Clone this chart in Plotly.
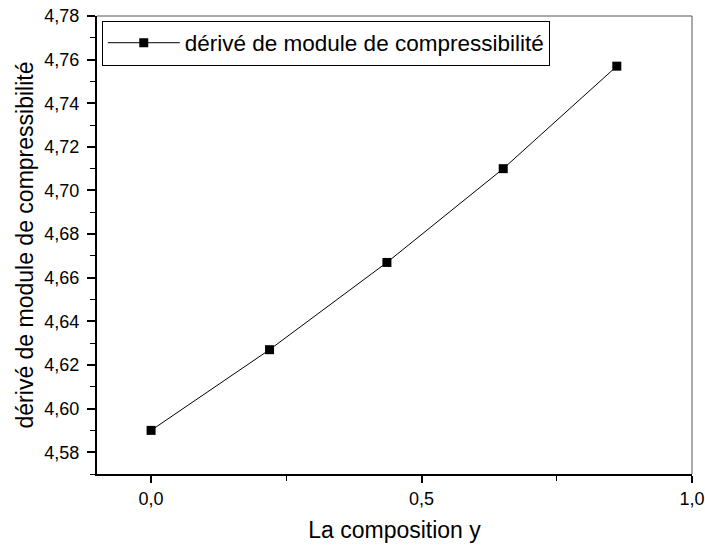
import plotly.graph_objects as go

composition = [0.0, 0.219, 0.436, 0.651, 0.861]
derive_module = [4.590, 4.627, 4.667, 4.710, 4.757]
series_name = "dérivé de module de compressibilité"
x_title = "La composition y"
y_title = "dérivé de module de compressibilité"
x_ticks = [0.0, 0.5, 1.0]
y_ticks = [4.58, 4.60, 4.62, 4.64, 4.66, 4.68, 4.70, 4.72, 4.74, 4.76, 4.78]

FONT = "Liberation Sans, Arial, sans-serif"

fig = go.Figure()
fig.add_trace(go.Scatter(
    x=composition, y=derive_module, mode="lines+markers", name=series_name,
    line=dict(color="black", width=1),
    marker=dict(symbol="square", size=9, color="black"),
))

fig.update_layout(
    width=705, height=547,
    margin=dict(l=97, r=13, t=16, b=73),
    paper_bgcolor="white", plot_bgcolor="white",
    separators=", ",
    font=dict(family=FONT, color="black", size=18),
    showlegend=True,
    legend=dict(
        x=0.008, y=0.99, xanchor="left", yanchor="top",
        bordercolor="black", borderwidth=1, bgcolor="white",
        font=dict(family=FONT, size=22.5, color="black"),
        tracegroupgap=0, itemwidth=72,
    ),
    xaxis=dict(
        range=[-0.1, 1.0], tickvals=x_ticks, tickformat=".1f",
        ticks="outside", ticklen=7, tickwidth=1.5, tickcolor="black",
        showline=True, linecolor="black", linewidth=2,
        showgrid=False, zeroline=False, automargin=False,
        minor=dict(dtick=0.25, tick0=0, ticks="outside", ticklen=5, tickwidth=1, tickcolor="black", showgrid=False),
        title=dict(text=x_title, font=dict(size=23), standoff=14),
        tickfont=dict(size=18),
    ),
    yaxis=dict(
        range=[4.57, 4.78], tickvals=y_ticks, tickformat=".2f",
        ticks="outside", ticklen=8, tickwidth=1.5, tickcolor="black",
        showline=True, linecolor="black", linewidth=2,
        showgrid=False, zeroline=False, automargin=False,
        minor=dict(dtick=0.01, tick0=4.57, ticks="outside", ticklen=5, tickwidth=1, tickcolor="black", showgrid=False),
        title=dict(text=y_title, font=dict(size=23), standoff=4),
        tickfont=dict(size=18), ticklabelstandoff=4,
    ),
    shapes=[
        dict(type="line", xref="paper", yref="paper", x0=0, x1=1, y0=1, y1=1,
             line=dict(color="#555555", width=1)),
        dict(type="line", xref="paper", yref="paper", x0=1, x1=1, y0=0, y1=1,
             line=dict(color="#555555", width=1)),
    ],
)

fig.write_html("out.html", config={"displayModeBar": False},
               post_script="document.body.style.margin='0';document.body.style.overflow='hidden';")
